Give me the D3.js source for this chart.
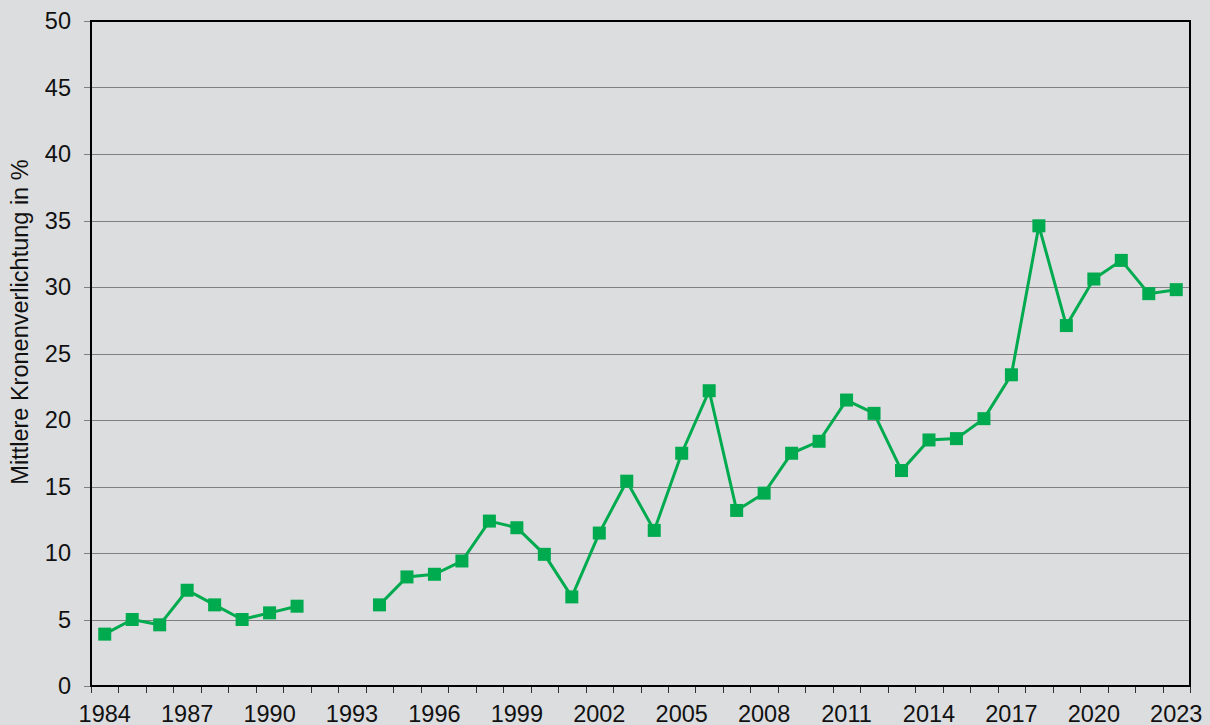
<!DOCTYPE html>
<html>
<head>
<meta charset="utf-8">
<script src="https://cdn.jsdelivr.net/npm/d3@7"></script>
<style>
  body { margin: 0; background: #dcdddf; }
  svg { display: block; }
  text { font-family: "Liberation Sans", Arial, sans-serif; fill: #111; }
</style>
</head>
<body>
<script>
var years = d3.range(1984, 2024);
// null = kein Wert (1992, 1993)
var values = [3.9, 5.0, 4.6, 7.2, 6.1, 5.0, 5.5, 6.0, null, null,
              6.1, 8.2, 8.4, 9.4, 12.4, 11.9, 9.9, 6.7, 11.5, 15.4,
              11.7, 17.5, 22.2, 13.2, 14.5, 17.5, 18.4, 21.5, 20.5, 16.2,
              18.5, 18.6, 20.1, 23.4, 34.6, 27.1, 30.6, 32.0, 29.5, 29.8];
var yTicks = [0, 5, 10, 15, 20, 25, 30, 35, 40, 45, 50];
var xLabels = d3.range(1984, 2024, 3);

var w = 1210,
    h = 725;
var m = {left: 91, right: 20, top: 21, bottom: 39};
var fs = 23.5;

var data = years.map(function(y, i) { return {year: y, v: values[i]}; });

var x = d3.scaleBand()
    .domain(years)
    .range([m.left, w - m.right]);

var y = d3.scaleLinear()
    .domain([0, 50])
    .range([h - m.bottom, m.top]);

var svg = d3.select("body").append("svg")
    .attr("width", w)
    .attr("height", h);

// gitterlinien
svg.append("g")
    .selectAll("line")
    .data(yTicks)
    .enter().append("line")
    .attr("x1", m.left - 7)
    .attr("x2", w - m.right)
    .attr("y1", function(d) { return Math.round(y(d)) + 0.5; })
    .attr("y2", function(d) { return Math.round(y(d)) + 0.5; })
    .attr("stroke", "#7f7f7f")
    .attr("stroke-width", 1);

svg.append("g")
    .selectAll("text")
    .data(yTicks)
    .enter().append("text")
    .attr("x", m.left - 20)
    .attr("y", function(d) { return y(d); })
    .attr("dy", "0.36em")
    .attr("text-anchor", "end")
    .attr("font-size", fs)
    .text(function(d) { return d; });

// x ticks an den bandgrenzen
var bounds = years.map(function(d) { return x(d); }).concat([w - m.right]);
svg.append("g")
    .selectAll("line")
    .data(bounds)
    .enter().append("line")
    .attr("x1", function(d) { return Math.round(d) + 0.5; })
    .attr("x2", function(d) { return Math.round(d) + 0.5; })
    .attr("y1", h - m.bottom)
    .attr("y2", h - m.bottom + 7)
    .attr("stroke", "#333")
    .attr("stroke-width", 1);

svg.append("g")
    .selectAll("text")
    .data(xLabels)
    .enter().append("text")
    .attr("x", function(d) { return x(d) + x.bandwidth() / 2; })
    .attr("y", h - m.bottom + 36)
    .attr("text-anchor", "middle")
    .attr("font-size", fs)
    .text(function(d) { return d; });

// rahmen
svg.append("rect")
    .attr("x", m.left)
    .attr("y", m.top)
    .attr("width", w - m.right - m.left)
    .attr("height", h - m.bottom - m.top)
    .attr("fill", "none")
    .attr("stroke", "#000")
    .attr("stroke-width", 2);

svg.append("text")
    .attr("transform", "translate(28,322)rotate(-90)")
    .attr("text-anchor", "middle")
    .attr("font-size", fs)
    .text("Mittlere Kronenverlichtung in %");

var line = d3.line()
    .defined(function(d) { return d.v != null; })
    .x(function(d) { return x(d.year) + x.bandwidth() / 2; })
    .y(function(d) { return y(d.v); });

svg.append("path")
    .datum(data)
    .attr("d", line)
    .attr("fill", "none")
    .attr("stroke", "#00ab4f")
    .attr("stroke-width", 3);

var s = 13;
svg.append("g")
    .selectAll("rect")
    .data(data.filter(function(d) { return d.v != null; }))
    .enter().append("rect")
    .attr("x", function(d) { return x(d.year) + x.bandwidth() / 2 - s / 2; })
    .attr("y", function(d) { return y(d.v) - s / 2; })
    .attr("width", s)
    .attr("height", s)
    .attr("fill", "#00ab4f");
</script>
</body>
</html>
